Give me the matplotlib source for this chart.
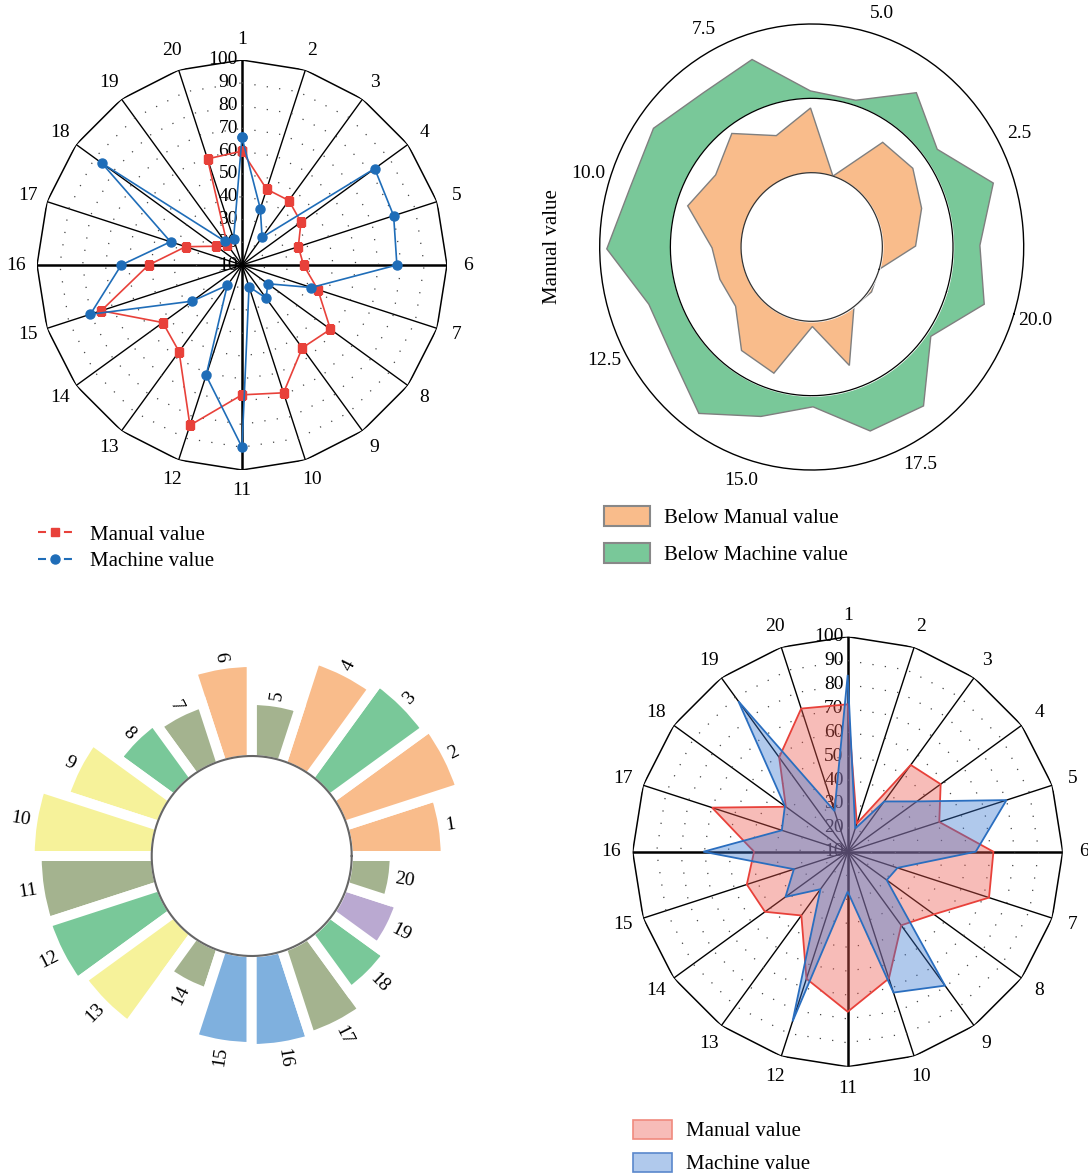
import numpy as np
import matplotlib.pyplot as plt
import matplotlib.transforms as mtransforms
from matplotlib.lines import Line2D
from matplotlib.patches import Patch

plt.rcParams['font.family'] = ['Liberation Serif', 'DejaVu Serif']

W, H = 1088, 1176

labels20 = [str(i) for i in range(1, 21)]
radial_ticks = list(range(10, 101, 10))

# top left radar (lines)
tl_manual = [60, 45, 45, 42, 36, 37, 45, 58, 55, 69, 67, 84, 57, 53, 75, 51, 36, 24, 21, 59]
tl_machine = [66, 36, 25, 82, 80, 78, 42, 24, 28, 20, 90, 61, 21, 37, 80, 63, 43, 86, 23, 22]

# top right polar (filled rings)
tr_manual = [14.7, 16.4, 17.8, 17.3, 10.0, 18.7, 15.8, 19.0, 16.7, 18.4,
             14.1, 13.7, 13.4, 17.1, 17.8, 10.7, 16.8, 10.05, 10.4, 10.0]
tr_machine = [23.8, 27.1, 22.1, 25.5, 20.7, 21.0, 26.6, 25.8, 27.5, 26.9,
              29.0, 24.3, 24.6, 27.5, 23.9, 21.5, 26.1, 26.6, 20.7, 25.6]
tr_ticks = [2.5, 5.0, 7.5, 10.0, 12.5, 15.0, 17.5, 20.0]

# bottom left circular bars
bar_heights = [98, 124, 120, 111, 60, 98, 65, 71, 101, 126,
               119, 120, 114, 48, 95, 97, 94, 72, 60, 47]
c_or, c_gr, c_ol, c_ye, c_bl, c_pu = '#f9bc8b', '#79c899', '#a4b38f', '#f6f29a', '#7fb0de', '#baa9d1'
bar_colors = [c_or, c_or, c_gr, c_or, c_ol, c_or, c_ol, c_gr, c_ye, c_ye,
              c_ol, c_gr, c_ye, c_ol, c_bl, c_bl, c_ol, c_gr, c_pu, c_ol]

# bottom right radar (filled)
br_manual = [71.7, 22.4, 54.9, 58.1, 50.3, 71.0, 72.2, 54.6, 48.1, 65.8,
             77.0, 65.9, 43.0, 52.8, 54.4, 49.2, 69.7, 42.0, 58.8, 73.0]
br_machine = [84.0, 20.2, 36.0, 45.8, 79.9, 63.6, 31.9, 30.2, 79.3, 72.0,
              26.7, 84.7, 29.4, 42.2, 33.7, 70.4, 39.0, 42.5, 87.8, 27.9]

red = '#e8413a'
blue = '#1f6db8'

fig = plt.figure(figsize=(W / 100, H / 100), dpi=100)


def px_axes(cx, cy, rx, ry):
    return fig.add_axes([(cx - rx) / W, 1 - (cy + ry) / H, 2 * rx / W, 2 * ry / H],
                        projection='polar')


def close(v):
    return list(v) + [v[0]]


th = np.deg2rad(np.arange(20) * 18)
thc = np.append(th, th[0])
dense = np.linspace(0, 2 * np.pi, 400)


def radar_frame(ax):
    ax.set_theta_zero_location('N')
    ax.set_theta_direction(-1)
    ax.set_ylim(10, 100)
    ax.set_axis_off()
    for k, t in enumerate(th):
        ax.plot([t, t], [10, 100], color='k', lw=1.8 if k % 5 == 0 else 1.0, zorder=1)
    ax.plot(thc, [100] * 21, color='k', lw=1.1, zorder=1)
    for lev in range(20, 100, 10):
        ax.plot(thc, [lev] * 21, color='#444', lw=0.9, dashes=(1, 9), zorder=1)
    off = mtransforms.offset_copy(ax.transData, fig=fig, x=-4, y=0, units='dots')
    for v in radial_ticks:
        ax.text(0, v, str(v), transform=off, ha='right', va='center', fontsize=14, zorder=1)
    for t, lab in zip(th, labels20):
        ax.text(t, 109, lab, ha='center', va='center', fontsize=14)


# ---- top left
ax1 = px_axes(242, 265, 205, 205)
radar_frame(ax1)
ax1.plot(thc, close(tl_manual), color=red, lw=1.2, marker='s', ms=5.5, zorder=3)
ax1.plot(thc, close(tl_machine), color=blue, lw=1.2, marker='o', ms=6.5, zorder=4)

h1 = Line2D([], [], color=red, lw=1.5, dashes=(3.85, 8.6), marker='s', ms=6)
h2 = Line2D([], [], color=blue, lw=1.5, dashes=(3.85, 8.6), marker='o', ms=6.5)
fig.legend(handles=[h1, h2], labels=['Manual value', 'Machine value'], loc='upper left',
           bbox_to_anchor=(38 / W, 1 - 525 / H), frameon=False, fontsize=15,
           handlelength=1.63, handletextpad=0.85, labelspacing=0.34,
           borderpad=0, borderaxespad=0)

# ---- top right
unit = 2 * np.pi / 20
ax2 = px_axes(811.7, 247, 212, 223)
ax2.set_aspect('auto')
ax2.set_theta_offset(np.deg2rad(-17.5))
ax2.set_ylim(0, 30)
ax2.set_yticks([])
ax2.grid(False)
ax2.set_xticks(unit * np.array(tr_ticks))
ax2.set_xticklabels(['%.1f' % v for v in tr_ticks])
ax2.set_xticks(unit * (np.array(tr_ticks) - 1.25), minor=True)
ax2.tick_params(axis='x', which='both', direction='in', length=5, width=1, labelsize=14, pad=9)
ax2.spines['polar'].set_linewidth(1)

th2 = unit * np.arange(1, 21)
ax2.fill(th2, tr_machine, facecolor=c_gr, edgecolor='#7f7f7f', lw=1, zorder=1)
ax2.fill_between(dense, 0, 20, color='white', zorder=2)
ax2.plot(dense, [20] * len(dense), color='k', lw=0.9, zorder=2.1)
ax2.fill(th2, tr_manual, facecolor=c_or, edgecolor='#7f7f7f', lw=1, zorder=3)
ax2.fill_between(dense, 0, 10, color='white', zorder=4)
ax2.plot(dense, [10] * len(dense), color='#333', lw=0.9, zorder=4.1)
ax2.text(-0.112, 0.5, 'Manual value', transform=ax2.transAxes, rotation=90,
         ha='center', va='center', fontsize=15)

fig.legend(handles=[Patch(facecolor=c_or, edgecolor='#888', lw=1.5),
                    Patch(facecolor=c_gr, edgecolor='#888', lw=1.5)],
           labels=['Below Manual value', 'Below Machine value'], loc='upper left',
           bbox_to_anchor=(604 / W, 1 - 506 / H), frameon=False, fontsize=15,
           handlelength=2.2, handleheight=1.1, handletextpad=0.67, labelspacing=0.7,
           borderpad=0, borderaxespad=0)

# ---- bottom left
ax3 = px_axes(251.7, 856, 250, 250)
ax3.set_ylim(0, 250)
ax3.set_axis_off()
angles = unit * (np.arange(20) + 0.5)
ax3.bar(angles, bar_heights, width=unit, bottom=96, color=bar_colors,
        edgecolor='white', linewidth=7.2, zorder=1)
ax3.fill_between(dense, 0, 100, color='white', zorder=2)
ax3.plot(dense, [100] * len(dense), color='#666', lw=1.5, zorder=3)
for a, h, lab in zip(angles, bar_heights, labels20):
    rot = np.rad2deg(a)
    if 90 <= rot < 270:
        rot += 180
        ha = 'right'
    else:
        ha = 'left'
    ax3.text(a, 96 + h + 2, lab, rotation=rot, rotation_mode='anchor',
             ha=ha, va='center', fontsize=14)

# ---- bottom right
ax4 = px_axes(847.7, 851.7, 215, 215)
radar_frame(ax4)
red_fc = (0.93, 0.35, 0.31, 0.4)
blue_fc = (0.23, 0.47, 0.82, 0.4)
ax4.fill(thc, close(br_manual), facecolor=red_fc, edgecolor=red, lw=1.3, zorder=2)
ax4.fill(thc, close(br_machine), facecolor=blue_fc, edgecolor='#2a6ebf', lw=1.3, zorder=3)

fig.legend(handles=[Patch(facecolor=red_fc, edgecolor='#f08a7e', lw=1.2),
                    Patch(facecolor=blue_fc, edgecolor='#5a87cc', lw=1.2)],
           labels=['Manual value', 'Machine value'], loc='upper left',
           bbox_to_anchor=(632.7 / W, 1 - 1120 / H), frameon=False, fontsize=15,
           handlelength=1.9, handleheight=1.0, handletextpad=0.67, labelspacing=0.55,
           borderpad=0, borderaxespad=0)

fig.savefig('out.png', dpi=100)
